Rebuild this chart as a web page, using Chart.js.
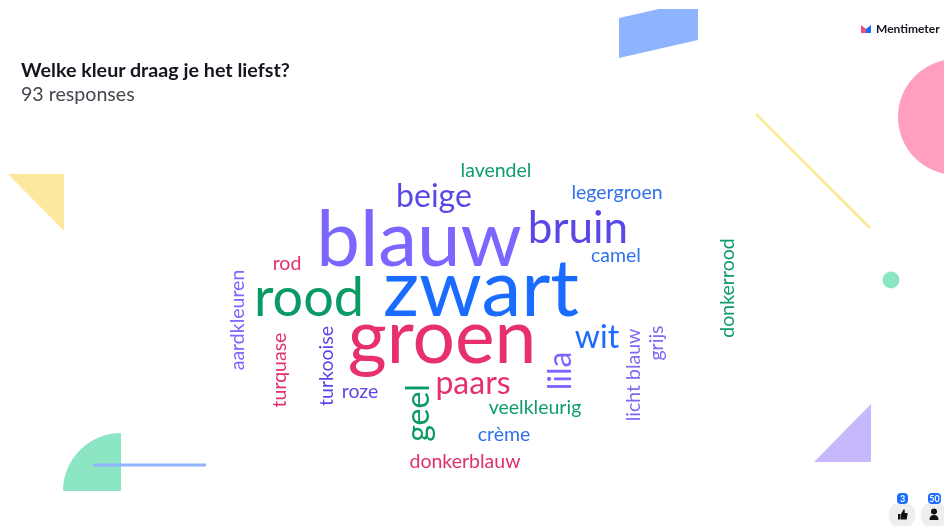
<!DOCTYPE html>
<html>
<head>
<meta charset="utf-8">
<title>Welke kleur draag je het liefst?</title>
<script src="https://cdn.jsdelivr.net/npm/chart.js@4"></script>
<style>
  html, body { margin: 0; padding: 0; background: #fff; overflow: hidden; }
  #slide { position: relative; width: 944px; height: 526px; font-family: Lato, sans-serif; }
  #slide svg, #cloud { position: absolute; left: 0; top: 0; }
  .label { position: absolute; white-space: nowrap; line-height: 1; }
  #question { left: 21px; top: 60px; font-size: 19.7px; font-weight: 700; color: #14161f; }
  #responses { left: 21px; top: 84px; font-size: 19.6px; color: #44474f; }
  #brand { left: 876px; top: 23px; font-size: 12px; font-weight: 700; color: #14161f; }
  .badge { top: 494px; height: 10px; font-size: 9px; font-weight: 700; color: #fff; text-align: center; }
</style>
</head>
<body>
<div id="slide">
  <svg width="944" height="526">
    <polygon points="619,18 659,9 698,9 698,40 619,58" fill="#8fb4ff"/>
    <circle cx="956" cy="117" r="58" fill="#ff9fbd"/>
    <line x1="756" y1="114" x2="870" y2="228" stroke="#fdeb9d" stroke-width="3"/>
    <circle cx="891" cy="280" r="8.5" fill="#8ce6c4"/>
    <polygon points="814,462 871,462 871,404" fill="#c6b8fb"/>
    <polygon points="8,174 64,174 64,231" fill="#fde99e"/>
    <path d="M121,491 L121,433 A58,58 0 0 0 63,491 Z" fill="#8ce6c4"/>
    <line x1="93" y1="465" x2="206" y2="465" stroke="#8fb4ff" stroke-width="3"/>
    <polygon points="861,25 866,29 866,33 861,33" fill="#ee4f7c"/>
    <polygon points="871,25 871,33 866,33 866,29" fill="#1a6bff"/>
    <circle cx="902" cy="515" r="13.5" fill="#eeeeee"/>
    <circle cx="934" cy="515" r="13.5" fill="#eeeeee"/>
    <rect x="897" y="493" width="11" height="11" rx="4" fill="#1a6bff"/>
    <rect x="928" y="493" width="13" height="11" rx="4" fill="#1a6bff"/>
    <path d="M898,514 h2.5 v5.5 h-2.5 Z M901,514 l2.5,-4.5 h1.2 v3.5 h3 l-1,6.5 h-5.7 Z" fill="#111"/>
    <circle cx="934" cy="511.5" r="3" fill="#111"/>
    <path d="M929.5,520 q0,-5 4.5,-5 q4.5,0 4.5,5 Z" fill="#111"/>
  </svg>
  <canvas id="cloud" width="944" height="526"></canvas>
  <div class="label" id="question">Welke kleur draag je het liefst?</div>
  <div class="label" id="responses">93 responses</div>
  <div class="label" id="brand">Mentimeter</div>
  <div class="label badge" style="left:897px;width:11px">3</div>
  <div class="label badge" style="left:928px;width:13px">50</div>
</div>

<script>
// woorden uit de reference, votes geschat uit de lettergrootte
const words = ['blauw', 'zwart', 'groen', 'rood', 'bruin', 'beige', 'paars', 'wit', 'geel', 'lila',
  'lavendel', 'legergroen', 'camel', 'rod', 'aardkleuren', 'turquase', 'turkooise', 'roze',
  'veelkleurig', 'crème', 'donkerblauw', 'licht blauw', 'grijs', 'donkerrood'];
const votes = [20, 22, 16, 7, 4, 2, 2, 2, 2, 2, 1, 1, 1, 1, 1, 1, 1, 1, 1, 1, 1, 1, 1, 1];
const wordX = [419, 481, 442, 309, 578, 434, 473, 597, 429, 571, 496, 617, 616, 287, 244, 286, 333, 360, 535, 504, 465, 640, 663, 734];
const wordY = [266, 316, 363, 316, 243, 207, 394, 348, 413, 371, 177, 199, 262, 270, 320, 370, 366, 398, 414, 441, 468, 375, 343, 288];
const upright = [1, 1, 1, 1, 1, 1, 1, 1, 0, 0, 1, 1, 1, 1, 0, 0, 0, 1, 1, 1, 1, 0, 0, 0];
const wordColors = ['#7b66ff', '#1a6bff', '#e8306f', '#0a9a64', '#5a47e8', '#5a47e8', '#e8306f', '#1a6bff', '#0a9a64', '#7b66ff',
  '#0f9d6e', '#2f72e8', '#2f72e8', '#e0306e', '#7b66ff', '#e0306e', '#5a47e8', '#5a47e8',
  '#0f9d6e', '#2f72e8', '#e0306e', '#8068f5', '#8068f5', '#0f9d6e'];

// votes -> lettergrootte
const fontForVotes = { 1: 19.5, 2: 32, 4: 44, 7: 54, 16: 75, 20: 78, 22: 80 };

const wordLabels = {
  id: 'wordLabels',
  afterDatasetsDraw(chart) {
    const ctx = chart.ctx;
    chart.getDatasetMeta(0).data.forEach((point, i) => {
      ctx.save();
      ctx.translate(point.x, point.y);
      if (!upright[i]) ctx.rotate(-Math.PI / 2);
      ctx.font = `${fontForVotes[votes[i]]}px Lato, sans-serif`;
      ctx.fillStyle = wordColors[i];
      ctx.textAlign = 'center';
      ctx.textBaseline = 'alphabetic';
      ctx.fillText(words[i], 0, 0);
      ctx.restore();
    });
  }
};

new Chart(document.getElementById('cloud'), {
  type: 'scatter',
  data: {
    datasets: [{
      label: 'Welke kleur draag je het liefst?',
      data: words.map((w, i) => ({ x: wordX[i], y: wordY[i] })),
      pointRadius: 0
    }]
  },
  options: {
    responsive: false,
    animation: false,
    devicePixelRatio: 1,
    plugins: { legend: { display: false }, tooltip: { enabled: false } },
    scales: {
      x: { display: false, min: 0, max: 944 },
      y: { display: false, min: 0, max: 526, reverse: true }
    }
  },
  plugins: [wordLabels]
});
</script>
</body>
</html>
